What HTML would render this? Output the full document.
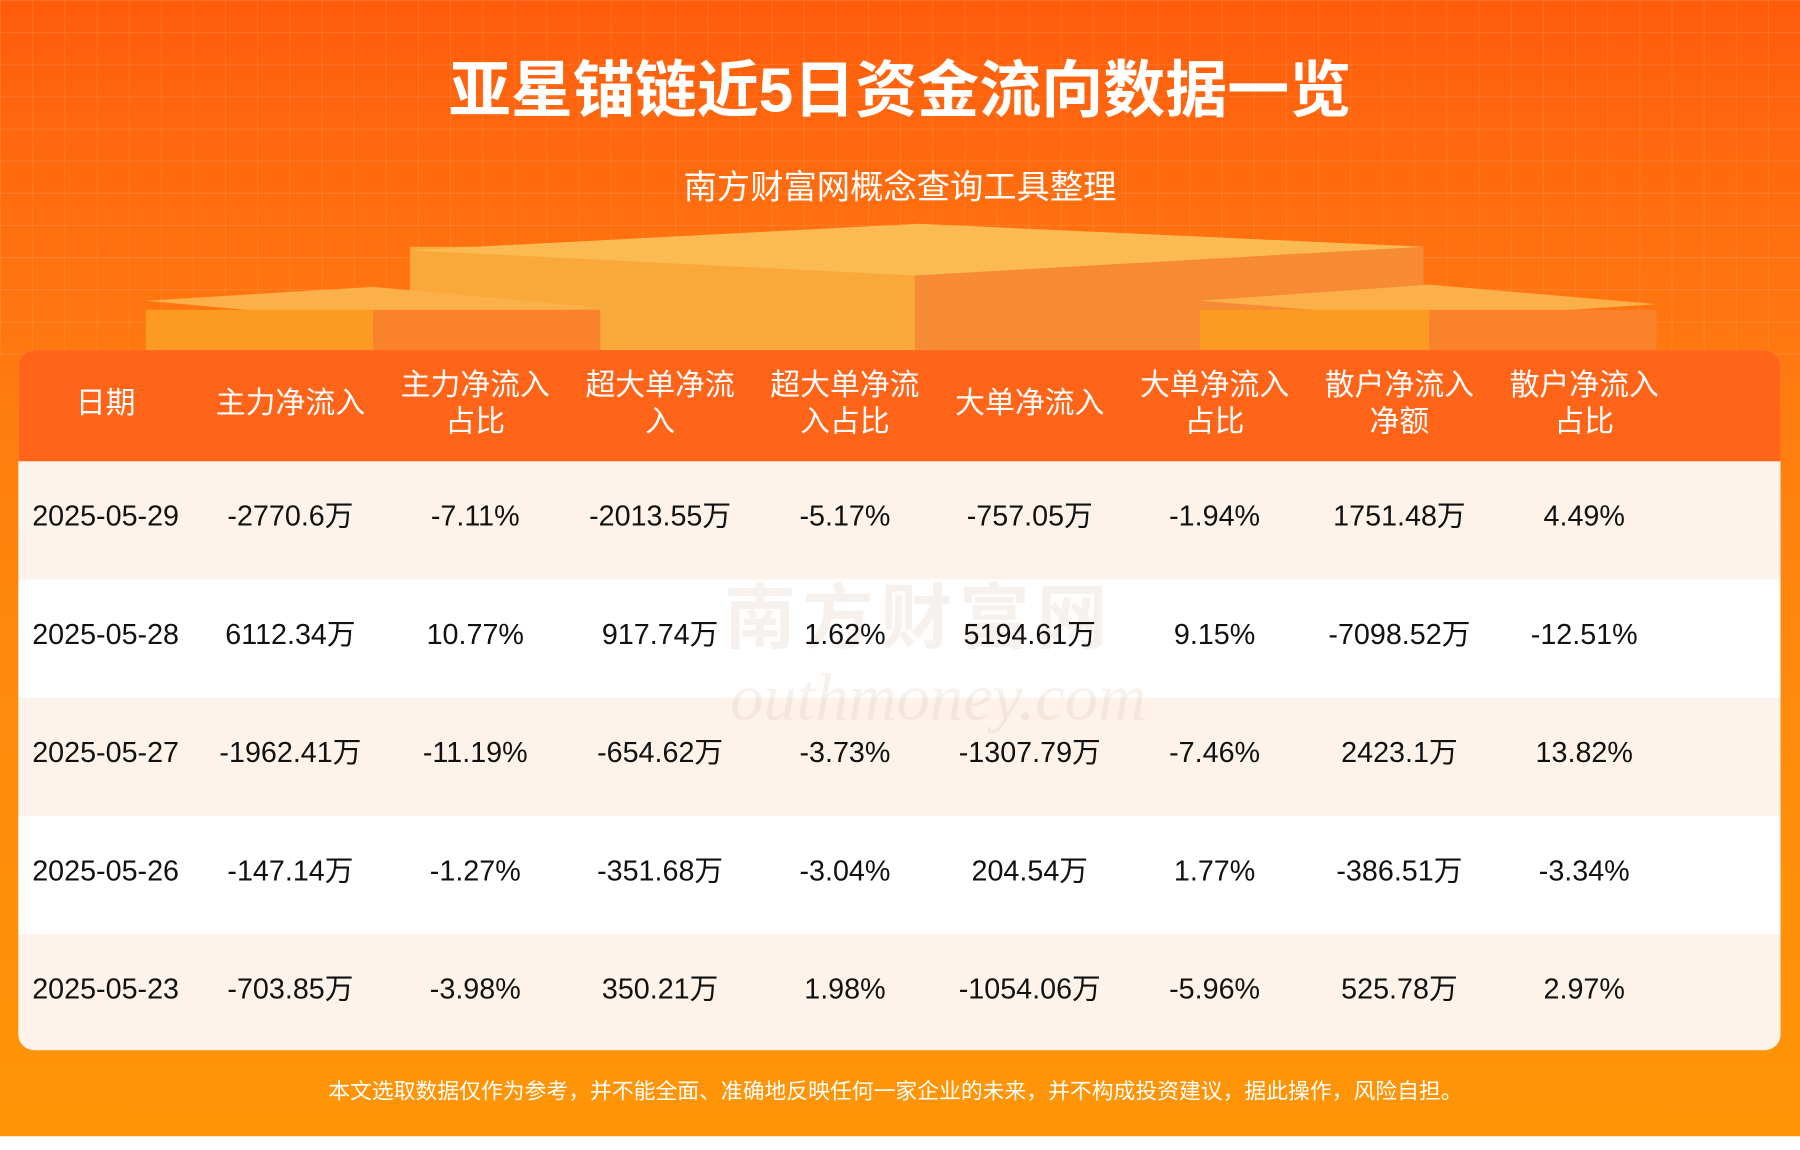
<!DOCTYPE html>
<html><head><meta charset="utf-8"><style>
html,body{margin:0;padding:0;width:1800px;height:1150px;overflow:hidden;background:#fff}
#s{position:absolute;left:0;top:0;width:1568px;height:1002px;transform:scale(1.148,1.1477);transform-origin:0 0;font-family:"Liberation Sans","Noto Sans CJK SC",sans-serif}
.bg{position:absolute;left:0;top:0;width:1568px;height:990px;background:linear-gradient(180deg,#ff5c0c 0%,#ff7410 25%,#ff850e 50%,#ff8f0a 75%,#ff9505 100%)}
.grid{position:absolute;left:0;top:0;width:1568px;height:310px;background-image:linear-gradient(rgba(255,255,255,.10) 1px,transparent 1px),linear-gradient(90deg,rgba(255,255,255,.10) 1px,transparent 1px);background-size:28px 28px}
.t{position:absolute;left:0;width:1568px;text-align:center;color:#fff}
.box{position:absolute}
.card{position:absolute;left:16px;top:305px;width:1535px;height:610px;border-radius:14px;overflow:hidden;background:#fff}
.hd{position:absolute;left:0;top:0;width:1535px;height:97px;background:#ff6418}
.row{position:absolute;left:0;width:1535px;height:103px}
.c{position:absolute;width:170px;text-align:center;transform:translateX(-85px)}
.h{color:#fff;font-size:26px;line-height:32px}
.d{color:#111;font-size:25px;line-height:97px;top:0}
</style></head><body><div id="s">
<div class="bg"></div><div class="grid"></div>
<div class="t" style="top:48px;font-size:54px;font-weight:bold;line-height:62px">亚星锚链近5日资金流向数据一览</div>
<div class="t" style="top:146px;font-size:29px;line-height:36px">南方财富网概念查询工具整理</div>
<div class="box" style="left:357px;top:215px;width:440px;height:90px;background:#f9a83a"></div>
<div class="box" style="left:797px;top:215px;width:443px;height:90px;background:#f78a34"></div>
<svg class="box" style="left:0;top:0" width="1568" height="310">
<polygon points="357,218 800,195 1240,215 797,240" fill="#fbbb52"/>
<polygon points="127,262 325,250 523,268 325,280" fill="#fbb04a"/>
<polygon points="1045,262 1245,248 1443,265 1245,278" fill="#fbb04a"/>
</svg>
<div class="box" style="left:127px;top:270px;width:198px;height:35px;background:#fd9a22"></div>
<div class="box" style="left:325px;top:270px;width:198px;height:35px;background:#f9822a"></div>
<div class="box" style="left:1045px;top:270px;width:200px;height:35px;background:#fd9a22"></div>
<div class="box" style="left:1245px;top:270px;width:198px;height:35px;background:#f9822a"></div>
<div class="card">
<div class="hd">
<div class="c h" style="left:76px;top:30px">日期</div>
<div class="c h" style="left:237px;top:30px">主力净流入</div>
<div class="c h" style="left:398px;top:14px">主力净流入<br>占比</div>
<div class="c h" style="left:559px;top:14px">超大单净流<br>入</div>
<div class="c h" style="left:720px;top:14px">超大单净流<br>入占比</div>
<div class="c h" style="left:881px;top:30px">大单净流入</div>
<div class="c h" style="left:1042px;top:14px">大单净流入<br>占比</div>
<div class="c h" style="left:1203px;top:14px">散户净流入<br>净额</div>
<div class="c h" style="left:1364px;top:14px">散户净流入<br>占比</div>
</div>
<div class="row" style="top:97px;background:#fdf3eb">
<div class="c d" style="left:76px">2025-05-29</div><div class="c d" style="left:237px">-2770.6万</div><div class="c d" style="left:398px">-7.11%</div><div class="c d" style="left:559px">-2013.55万</div><div class="c d" style="left:720px">-5.17%</div><div class="c d" style="left:881px">-757.05万</div><div class="c d" style="left:1042px">-1.94%</div><div class="c d" style="left:1203px">1751.48万</div><div class="c d" style="left:1364px">4.49%</div></div>
<div class="row" style="top:200px;background:#fff">
<div style="position:absolute;left:615px;top:0;font-size:62px;line-height:70px;color:rgba(200,160,140,.15);font-weight:bold;letter-spacing:6px">南方财富网</div>
<div class="c d" style="left:76px">2025-05-28</div><div class="c d" style="left:237px">6112.34万</div><div class="c d" style="left:398px">10.77%</div><div class="c d" style="left:559px">917.74万</div><div class="c d" style="left:720px">1.62%</div><div class="c d" style="left:881px">5194.61万</div><div class="c d" style="left:1042px">9.15%</div><div class="c d" style="left:1203px">-7098.52万</div><div class="c d" style="left:1364px">-12.51%</div></div>
<div class="row" style="top:303px;background:#fdf3eb">
<div style="position:absolute;left:620px;top:-35px;font-size:58px;line-height:70px;color:rgba(200,160,140,.15);font-style:italic;font-family:'Liberation Serif',serif">outhmoney.com</div>
<div class="c d" style="left:76px">2025-05-27</div><div class="c d" style="left:237px">-1962.41万</div><div class="c d" style="left:398px">-11.19%</div><div class="c d" style="left:559px">-654.62万</div><div class="c d" style="left:720px">-3.73%</div><div class="c d" style="left:881px">-1307.79万</div><div class="c d" style="left:1042px">-7.46%</div><div class="c d" style="left:1203px">2423.1万</div><div class="c d" style="left:1364px">13.82%</div></div>
<div class="row" style="top:406px;background:#fff">
<div class="c d" style="left:76px">2025-05-26</div><div class="c d" style="left:237px">-147.14万</div><div class="c d" style="left:398px">-1.27%</div><div class="c d" style="left:559px">-351.68万</div><div class="c d" style="left:720px">-3.04%</div><div class="c d" style="left:881px">204.54万</div><div class="c d" style="left:1042px">1.77%</div><div class="c d" style="left:1203px">-386.51万</div><div class="c d" style="left:1364px">-3.34%</div></div>
<div class="row" style="top:509px;background:#fdf3eb">
<div class="c d" style="left:76px">2025-05-23</div><div class="c d" style="left:237px">-703.85万</div><div class="c d" style="left:398px">-3.98%</div><div class="c d" style="left:559px">350.21万</div><div class="c d" style="left:720px">1.98%</div><div class="c d" style="left:881px">-1054.06万</div><div class="c d" style="left:1042px">-5.96%</div><div class="c d" style="left:1203px">525.78万</div><div class="c d" style="left:1364px">2.97%</div></div>
</div>
<div class="t" style="top:940px;font-size:19px;line-height:24px;left:-4px">本文选取数据仅作为参考，并不能全面、准确地反映任何一家企业的未来，并不构成投资建议，据此操作，风险自担。</div>
</div></body></html>
